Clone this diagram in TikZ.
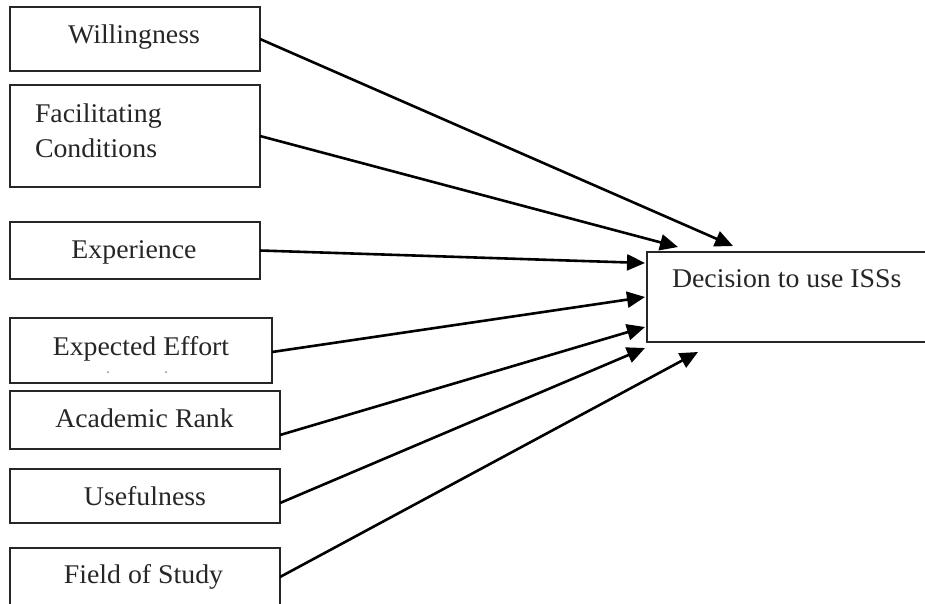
\documentclass[tikz,border=0pt]{standalone}
\usepackage{fontspec}
\setmainfont{Liberation Serif}[FakeStretch=1.03]
\usetikzlibrary{arrows.meta,calc}
\begin{document}
\begin{tikzpicture}[x=1pt,y=-1pt,
  box/.style={draw=black!85,line width=2.2pt,inner sep=0pt,outer sep=0pt,fill=white},
  txt/.style={inner sep=0pt,outer sep=0pt,font=\fontsize{27}{35}\selectfont,anchor=base,text=black!85},
  arr/.style={draw=black,line width=2.6pt,-{Triangle[length=18pt,width=16pt]}}]
\useasboundingbox (0,0) rectangle (925,603);
\clip (0,0) rectangle (925,603);
% boxes
\node[box,minimum width=250pt,minimum height=64pt] (will) at (135,39) {};
\node[box,minimum width=250pt,minimum height=102pt] (fac) at (135,136) {};
\node[box,minimum width=250pt,minimum height=57pt] (exp) at (135,250.5) {};
\node[box,minimum width=262pt,minimum height=65pt] (eff) at (141,350.5) {};
\node[box,minimum width=270pt,minimum height=58pt] (ar) at (145,420) {};
\node[box,minimum width=270pt,minimum height=54pt] (use) at (145,496) {};
\node[box,minimum width=270pt,minimum height=58pt] (fos) at (145,577) {};
\node[box,minimum width=288pt,minimum height=90pt] (dec) at (791,297) {};
% texts
\node[txt] (willt) at (134,43) {Willingness};
\node[txt,anchor=base west] (fact1) at (35,122) {Facilitating};
\node[txt,anchor=base west] (fact2) at (35,157) {Conditions};
\node[txt] (expt) at (134,258) {Experience};
\node[txt] (efft) at (141,355) {Expected Effort};
\node[txt] (art) at (144.5,427) {Academic Rank};
\node[txt] (uset) at (145,505) {Usefulness};
\node[txt] (fost) at (143.5,583) {Field of Study};
\node[txt,anchor=base west] (dect) at (672,287) {Decision to use ISSs};
\fill[black!45] (108,372) circle (1pt) (166,372) circle (1pt);
% arrow targets
\coordinate (t1) at (733,246);
\coordinate (t2) at (678,247);
\coordinate (t3) at (645,263);
\coordinate (t4) at (645,297);
\coordinate (t5) at (645,327);
\coordinate (t6) at (645,348);
\coordinate (t7) at (698,352);
% connectors
\draw[arr] (will.east) -- (t1);
\draw[arr] (fac.east) -- (t2);
\draw[arr] (exp.east) -- (t3);
\draw[arr] ($(eff.east)+(0,1.5)$) -- (t4);
\draw[arr] ($(ar.east)+(0,15)$) -- (t5);
\draw[arr] ($(use.east)+(0,7)$) -- (t6);
\draw[arr] (fos.east) -- (t7);
\end{tikzpicture}
\end{document}
